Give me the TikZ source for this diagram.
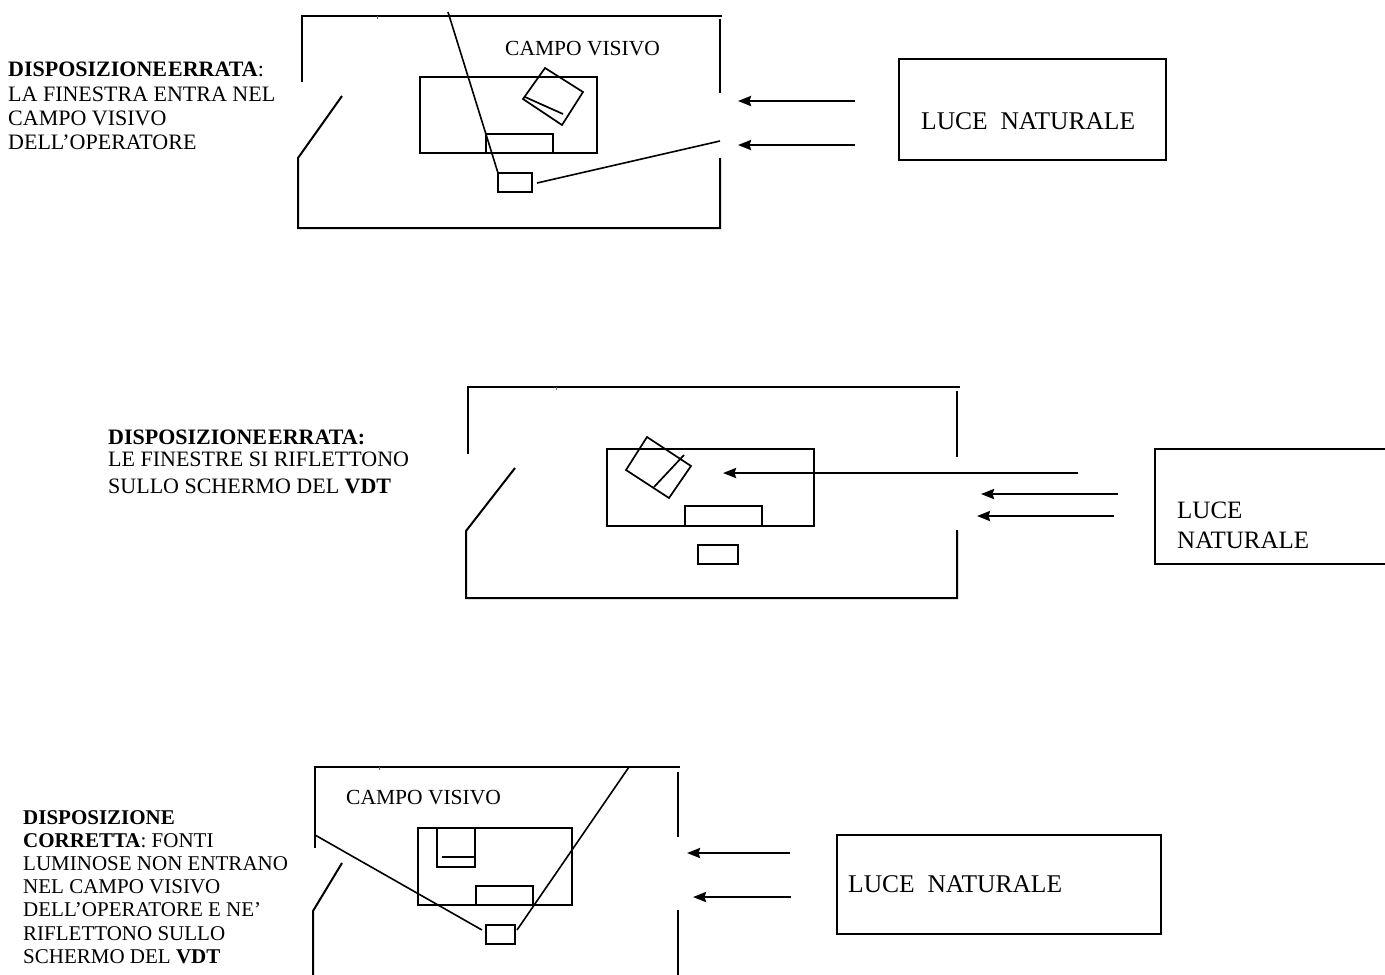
\documentclass[tikz,border=0pt]{standalone}
\usepackage{fontspec}
\setmainfont{Liberation Serif}
\usetikzlibrary{arrows.meta}
\begin{document}
\begin{tikzpicture}[x=1pt,y=-1pt,
  wall/.style={line width=2pt},
  desk/.style={line width=1.7pt},
  ray/.style={line width=1.6pt},
  tick/.style={line width=0.8pt, black!60},
  light/.style={line width=2.3pt, -{Stealth[length=13pt,width=10pt,inset=1.5pt]}},
  lbl/.style={inner sep=0pt, font=\fontsize{22}{24.3}\selectfont, align=left, anchor=north west},
  campo/.style={inner sep=0pt, font=\fontsize{21.5}{24}\selectfont, anchor=base west},
  luce/.style={inner sep=0pt, font=\fontsize{25.5}{30}\selectfont, align=left}
]
\useasboundingbox (0,0) rectangle (1385,975);

%% ================= Diagram 1 =================
\node[lbl] (t1) at (8,62) {\textbf{DISPOSIZIONE\hspace{1pt}ERRATA}:\\LA FINESTRA ENTRA NEL\\CAMPO VISIVO\\DELL’OPERATORE};
% room
\draw[wall] (302,82) -- (302,16) -- (722,16);
\draw[tick] (377,16) -- (377,19);
\draw[wall] (342,96) -- (298,158) -- (298,228) -- (720,228) -- (720,158);
\draw[wall] (720,19) -- (720,93);
% desk, keyboard, chair
\draw[desk] (420,77) rectangle (597,153);
\draw[desk] (486,134) rectangle (553,153);
\draw[desk] (498,173) rectangle (532,192);
% rotated monitor
\draw[desk] (545,68) -- (583,92) -- (562,125) -- (523,99) -- cycle;
\draw[desk] (525,97) -- (563,114);
% sight lines
\coordinate (s1a) at (448,12);
\coordinate (s1b) at (498,173);
\coordinate (s1c) at (537,183);
\coordinate (s1d) at (720,141);
\draw[ray] (s1a) -- (s1b);
\draw[ray] (s1c) -- (s1d);
\node[campo] (c1) at (505,55) {CAMPO VISIVO};
% light
\coordinate (a1s) at (855,101); \coordinate (a1e) at (738,101);
\coordinate (a2s) at (855,145); \coordinate (a2e) at (738,145);
\draw[light] (a1s) -- (a1e);
\draw[light] (a2s) -- (a2e);
\draw[desk] (899,59) rectangle (1166,160);
\node[luce, anchor=base west] (l1) at (921,129) {LUCE\ \ NATURALE};

%% ================= Diagram 2 =================
\node[lbl, font=\fontsize{22}{22}\selectfont] (t2) at (108,430) {\textbf{DISPOSIZIONE\hspace{1pt}ERRATA:}\\LE FINESTRE SI RIFLETTONO\\[5pt]SULLO SCHERMO DEL \textbf{VDT}};
\draw[wall] (468,454) -- (468,387) -- (960,387);
\draw[tick] (556,387) -- (556,390);
\draw[wall] (515,468) -- (466,531) -- (466,598) -- (957,598) -- (957,530);
\draw[wall] (957,391) -- (957,457);
\draw[desk] (607,449) rectangle (814,526);
\draw[desk] (685,506) rectangle (762,526);
\draw[desk] (698,545) rectangle (738,564);
\draw[desk] (647,437) -- (691,466) -- (669,498) -- (626,470) -- cycle;
\draw[desk] (684,455) -- (654,487);
\coordinate (b0s) at (1078,473); \coordinate (b0e) at (723,473);
\coordinate (b1s) at (1118,494); \coordinate (b1e) at (981,494);
\coordinate (b2s) at (1114,516); \coordinate (b2e) at (977,516);
\draw[light] (b0s) -- (b0e);
\draw[light] (b1s) -- (b1e);
\draw[light] (b2s) -- (b2e);
\draw[desk] (1386,449) -- (1155,449) -- (1155,564) -- (1386,564);
\node[luce, anchor=north west, font=\fontsize{25}{30}\selectfont] (l2) at (1177,502) {LUCE\\NATURALE};

%% ================= Diagram 3 =================
\node[lbl, font=\fontsize{21}{23.2}\selectfont] (t3) at (23,810) {\textbf{DISPOSIZIONE}\\\textbf{CORRETTA}: FONTI\\LUMINOSE NON ENTRANO\\NEL CAMPO VISIVO\\DELL’OPERATORE E NE’\\RIFLETTONO SULLO\\SCHERMO DEL \textbf{VDT}};
\draw[wall] (315,848) -- (315,767) -- (680,767);
\draw[tick] (379,767) -- (379,770);
\draw[wall] (342,863) -- (313,911) -- (313,976);
\draw[wall] (678,772) -- (678,837);
\draw[wall] (678,910) -- (678,976);
\draw[desk] (418,828) rectangle (572,905);
\draw[desk] (476,886) rectangle (533,905);
\draw[desk] (437,828) rectangle (475,867);
\draw[desk] (442,857) -- (474,857);
\draw[desk] (486,925) rectangle (515,944);
\coordinate (s3a) at (315,835); \coordinate (s3b) at (482,930);
\coordinate (s3c) at (517,930); \coordinate (s3d) at (629,767);
\draw[ray] (s3a) -- (s3b);
\draw[ray] (s3c) -- (s3d);
\node[campo] (c3) at (346,804) {CAMPO VISIVO};
\coordinate (d1s) at (790,853); \coordinate (d1e) at (687,853);
\coordinate (d2s) at (791,897); \coordinate (d2e) at (693,897);
\draw[light] (d1s) -- (d1e);
\draw[light] (d2s) -- (d2e);
\draw[desk] (837,835) rectangle (1161,934);
\node[luce, anchor=base west] (l3) at (848,892) {LUCE\ \ NATURALE};
\end{tikzpicture}
\end{document}
